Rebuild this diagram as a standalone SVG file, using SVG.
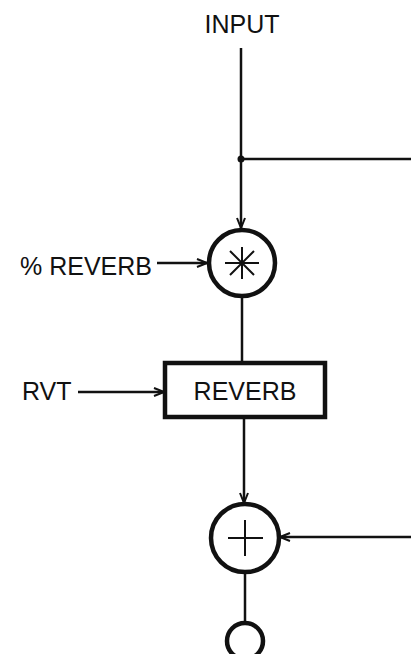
<svg xmlns="http://www.w3.org/2000/svg" width="411" height="654" viewBox="0 0 411 654">
<style>
text{font-family:"Liberation Sans",Arial,sans-serif;font-size:25px;fill:#111}
.ln{stroke:#111;stroke-width:2.5;fill:none}
.nd{stroke:#111;stroke-width:4.5;fill:#fff}
.sym{stroke:#111;stroke-width:2;fill:none}
</style>
<defs>
<marker id="ah" viewBox="0 0 12 10" refX="11" refY="5" markerWidth="12" markerHeight="10" markerUnits="userSpaceOnUse" orient="auto">
<path d="M1,1 L11,5 L1,9" fill="none" stroke="#111" stroke-width="2"/>
</marker>
</defs>
<rect width="411" height="654" fill="#fff"/>
<g id="connectors">
<line class="ln" x1="241" y1="48" x2="241" y2="228" marker-end="url(#ah)"/>
<line class="ln" x1="241" y1="159" x2="411" y2="159"/>
<circle cx="241" cy="159" r="3.5" fill="#111"/>
<line class="ln" x1="157" y1="263" x2="207" y2="263" marker-end="url(#ah)"/>
<line class="ln" x1="242" y1="297" x2="242" y2="363"/>
<line class="ln" x1="78" y1="392" x2="164" y2="392" marker-end="url(#ah)"/>
<line class="ln" x1="244" y1="417" x2="244" y2="503" marker-end="url(#ah)"/>
<line class="ln" x1="411" y1="537" x2="280" y2="537" marker-end="url(#ah)"/>
<line class="ln" x1="245" y1="572" x2="245" y2="622"/>
</g>
<g id="input-label"><text x="242" y="33" text-anchor="middle">INPUT</text></g>
<g id="pct-reverb-label"><text x="20" y="275">% REVERB</text></g>
<g id="rvt-label"><text x="22" y="400">RVT</text></g>
<g id="multiply">
<circle class="nd" cx="242" cy="263" r="33"/>
<path class="sym" d="M225,263 H259 M242,247 V279 M230,251 L254,275 M254,251 L230,275"/>
</g>
<g id="reverb">
<rect class="nd" x="165" y="363" width="160" height="54"/>
<text x="245" y="400" text-anchor="middle">REVERB</text>
</g>
<g id="sum">
<circle class="nd" cx="245" cy="538" r="34"/>
<path class="sym" d="M228,538 H263 M245,520 V556"/>
</g>
<g id="output">
<circle class="nd" cx="245" cy="641" r="18"/>
</g>
</svg>
